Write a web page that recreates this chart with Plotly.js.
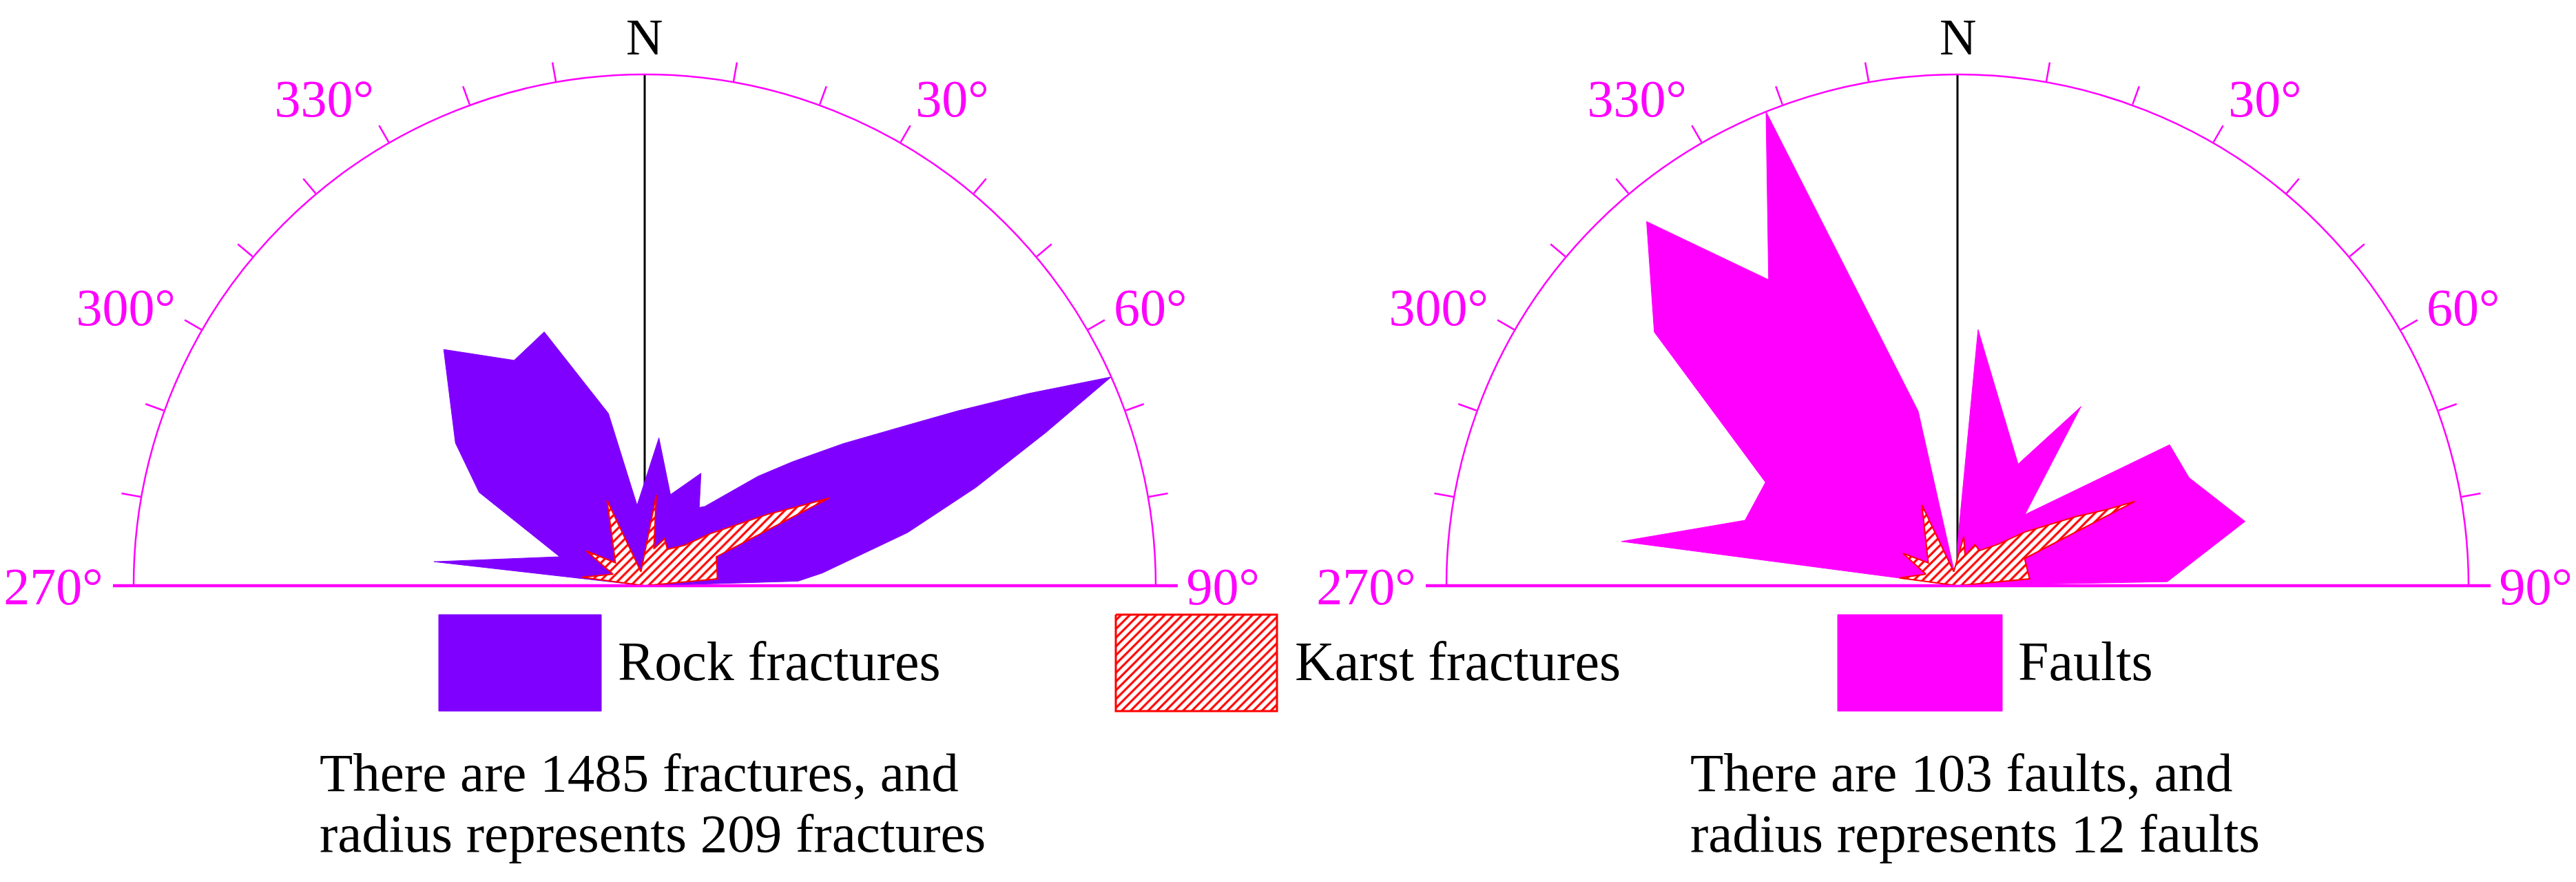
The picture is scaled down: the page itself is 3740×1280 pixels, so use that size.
<!DOCTYPE html>
<html>
<head>
<meta charset="utf-8">
<script src="https://cdn.plot.ly/plotly-3.0.1.min.js"></script>
<style>
  html, body { margin: 0; padding: 0; background: #fff; }
  #chart { width: 3740px; height: 1280px; }
</style>
</head>
<body>
<div id="chart"></div>
<script>
// vertices of the rose outlines: strike (deg from N, clockwise) and count
const rockTheta = [276.5, 288.8, 299.4, 307.0, 319.6, 329.9, 338.4, 348.1, 354.6, 5.5, 15.8, 26.6, 34.9, 37.2, 43.4, 46.0, 50.0, 54.4, 58.4, 60.8, 63.4, 65.9, 69.1, 73.5, 78.6, 85.9, 88.3];
const rockCount = [86.7, 36.7, 77.7, 96.9, 126.8, 106.5, 111.6, 72.0, 33.0, 60.7, 38.7, 51.4, 39.0, 40.7, 55.1, 64.4, 78.8, 99.7, 124.5, 146.3, 175.4, 209, 175.7, 141.2, 109.6, 72.9, 62.7];

const karstTheta = [277.7, 290, 300.7, 308, 336.2, 345, 7.3, 14, 23, 32, 44.5, 51.4, 56.6, 59.8, 62.8, 64.6, 68, 84.6];
const karstCount = [26.0, 13.8, 27.7, 15.2, 38.1, 5.9, 37.3, 15.5, 20.9, 17.5, 23.2, 33.9, 45.2, 57.9, 71.2, 83.6, 31.6, 29.9];
// karst overlay as drawn on the faults rose (in fault-radius units)
const karstOnFaults = [1.37, 0.79, 1.49, 0.87, 2.07, 0.34, 1.16, 0.73, 1.05, 0.97, 1.37, 2.02, 2.64, 3.23, 3.88, 4.61, 1.70, 1.70];

const faultTheta = [277.5, 287.1, 298.3, 309.9, 319.5, 328.3, 338.0, 347.3, 352, 0, 4.6, 26.5, 34.6, 43.5, 56.4, 65.0, 77.4, 88.9];
const faultCount = [7.96, 5.22, 5.12, 9.28, 11.24, 8.44, 12.0, 4.20, 0, 0.97, 6.03, 3.19, 5.11, 2.30, 5.98, 6.00, 6.92, 4.93];

const fractureRadius = 209;  // radius represents 209 fractures
const faultRadius = 12;      // radius represents 12 faults

const tickVals = [270, 280, 290, 300, 310, 320, 330, 340, 350, 10, 20, 30, 40, 50, 60, 70, 80, 90];
const tickText = ['270°', '', '', '300°', '', '', '330°', '', '', '', '', '30°', '', '', '60°', '', '', '90°'];

const seriesNames = ['Rock fractures', 'Karst fractures', 'Faults'];
const notesLeft = ['There are 1485 fractures, and', 'radius represents 209 fractures'];
const notesRight = ['There are 103 faults, and', 'radius represents 12 faults'];

const PURPLE = '#8000ff';
const MAGENTA = '#ff00ff';
const FONT = 'Liberation Serif, Times New Roman, serif';

const W = 3740, H = 1280;
const R = 742, cy = 850;
const leftCx = 936, rightCx = 2842;
const tickLen = 28;

// polar -> plane (north up, clockwise), closed at the centre
function toXY(theta, r) {
  const x = [0], y = [0];
  theta.forEach((t, i) => {
    const a = t * Math.PI / 180;
    x.push(r[i] * Math.sin(a));
    y.push(r[i] * Math.cos(a));
  });
  x.push(0);
  y.push(0);
  return { x: x, y: y };
}

function xDom(cx) { return [(cx - R) / W, (cx + R) / W]; }
const yDom = [(H - cy) / H, (H - cy + R) / H];

function angular() {
  return {
    rotation: 90,
    direction: 'clockwise',
    tickmode: 'array',
    // the half-rose axis runs -90..90, so west-side strikes are given as negatives
    tickvals: tickVals.map(t => (t > 180 ? t - 360 : t)),
    ticktext: tickText,
    ticks: 'outside',
    ticklen: tickLen,
    tickwidth: 2.5,
    tickcolor: MAGENTA,
    showline: true,
    linecolor: MAGENTA,
    linewidth: 2.5,
    showgrid: false,
    tickfont: { family: FONT, size: 76, color: MAGENTA }
  };
}

function karstTrace(xy, xa, ya) {
  return {
    type: 'scatter', x: xy.x, y: xy.y, xaxis: xa, yaxis: ya,
    mode: 'lines', fill: 'toself', fillcolor: 'white',
    fillpattern: { shape: '/', fgcolor: 'red', bgcolor: 'white', size: 9, solidity: 0.35 },
    line: { color: 'red', width: 2 }
  };
}

const rockXY = toXY(rockTheta, rockCount);
const karstXY = toXY(karstTheta, karstCount);
const faultXY = toXY(faultTheta, faultCount);
const karst2XY = toXY(karstTheta, karstOnFaults);

function box(x0, x1) {
  return { x: [x0, x1, x1, x0, x0], y: [892, 892, 1032, 1032, 892] };
}
const swatchX = [[637, 873], [1620, 1854], [2668, 2907]];
const labelX = [895, 1878, 2928];

const traces = [
  { type: 'scatter', x: [0, 0], y: [0, fractureRadius], xaxis: 'x', yaxis: 'y', mode: 'lines', line: { color: 'black', width: 3 } },
  { type: 'scatter', x: rockXY.x, y: rockXY.y, xaxis: 'x', yaxis: 'y', mode: 'lines', fill: 'toself', fillcolor: PURPLE, line: { color: PURPLE, width: 1 } },
  karstTrace(karstXY, 'x', 'y'),
  { type: 'scatter', x: [0, 0], y: [0, faultRadius], xaxis: 'x2', yaxis: 'y2', mode: 'lines', line: { color: 'black', width: 3 } },
  { type: 'scatter', x: faultXY.x, y: faultXY.y, xaxis: 'x2', yaxis: 'y2', mode: 'lines', fill: 'toself', fillcolor: MAGENTA, line: { color: MAGENTA, width: 1 } },
  karstTrace(karst2XY, 'x2', 'y2'),
  // the polar subplots only carry the compass frame (arc, ticks, labels)
  { type: 'scatterpolar', subplot: 'polar', r: [0], theta: [0], mode: 'markers', marker: { size: 1, opacity: 0 } },
  { type: 'scatterpolar', subplot: 'polar2', r: [0], theta: [0], mode: 'markers', marker: { size: 1, opacity: 0 } }
];

// legend swatches
const b0 = box(swatchX[0][0], swatchX[0][1]);
const b1 = box(swatchX[1][0], swatchX[1][1]);
const b2 = box(swatchX[2][0], swatchX[2][1]);
traces.push({ type: 'scatter', x: b0.x, y: b0.y, xaxis: 'x3', yaxis: 'y3', mode: 'lines', fill: 'toself', fillcolor: PURPLE, line: { color: PURPLE, width: 1 } });
traces.push({
  type: 'scatter', x: b1.x, y: b1.y, xaxis: 'x3', yaxis: 'y3', mode: 'lines', fill: 'toself', fillcolor: 'white',
  fillpattern: { shape: '/', fgcolor: 'red', bgcolor: 'white', size: 9, solidity: 0.35 },
  line: { color: 'red', width: 3 }
});
traces.push({ type: 'scatter', x: b2.x, y: b2.y, xaxis: 'x3', yaxis: 'y3', mode: 'lines', fill: 'toself', fillcolor: MAGENTA, line: { color: MAGENTA, width: 1 } });

const hidden = { visible: false, fixedrange: true, showgrid: false, zeroline: false };

const annotations = [];
[leftCx, rightCx].forEach(cx => {
  annotations.push({ xref: 'paper', yref: 'paper', x: cx / W, y: (H - 54) / H, text: 'N', showarrow: false, xanchor: 'center', yanchor: 'middle', font: { family: FONT, size: 74, color: 'black' } });
});
seriesNames.forEach((name, i) => {
  annotations.push({ xref: 'paper', yref: 'paper', x: labelX[i] / W, y: (H - 960) / H, text: name, showarrow: false, xanchor: 'left', yanchor: 'middle', font: { family: FONT, size: 80, color: 'black' } });
});
[[notesLeft, 462], [notesRight, 2452]].forEach(([lines, x]) => {
  lines.forEach((t, i) => {
    annotations.push({ xref: 'paper', yref: 'paper', x: x / W, y: (H - (1121 + i * 88)) / H, text: t, showarrow: false, xanchor: 'left', yanchor: 'middle', font: { family: FONT, size: 79, color: 'black' } });
  });
});

const shapes = [leftCx, rightCx].map(cx => ({
  type: 'line', xref: 'paper', yref: 'paper', layer: 'below',
  x0: (cx - R - tickLen - 2) / W, x1: (cx + R + tickLen + 4) / W,
  y0: (H - cy) / H, y1: (H - cy) / H,
  line: { color: MAGENTA, width: 4.5 }
}));

const layout = {
  width: W,
  height: H,
  margin: { l: 0, r: 0, t: 0, b: 0, pad: 0 },
  paper_bgcolor: 'white',
  plot_bgcolor: 'rgba(0,0,0,0)',
  showlegend: false,
  hovermode: false,
  font: { family: FONT },
  polar: {
    domain: { x: xDom(leftCx), y: yDom },
    sector: [0, 180],
    bgcolor: 'rgba(0,0,0,0)',
    radialaxis: { visible: false, range: [0, fractureRadius] },
    angularaxis: angular()
  },
  polar2: {
    domain: { x: xDom(rightCx), y: yDom },
    sector: [0, 180],
    bgcolor: 'rgba(0,0,0,0)',
    radialaxis: { visible: false, range: [0, faultRadius] },
    angularaxis: angular()
  },
  xaxis: Object.assign({ domain: xDom(leftCx), range: [-fractureRadius, fractureRadius], anchor: 'y' }, hidden),
  yaxis: Object.assign({ domain: yDom, range: [0, fractureRadius], anchor: 'x' }, hidden),
  xaxis2: Object.assign({ domain: xDom(rightCx), range: [-faultRadius, faultRadius], anchor: 'y2' }, hidden),
  yaxis2: Object.assign({ domain: yDom, range: [0, faultRadius], anchor: 'x2' }, hidden),
  xaxis3: Object.assign({ domain: [0, 1], range: [0, W], anchor: 'y3' }, hidden),
  yaxis3: Object.assign({ domain: [0, 1], range: [H, 0], anchor: 'x3' }, hidden),
  shapes: shapes,
  annotations: annotations
};

Plotly.newPlot('chart', traces, layout, { staticPlot: true, displayModeBar: false });
</script>
</body>
</html>
